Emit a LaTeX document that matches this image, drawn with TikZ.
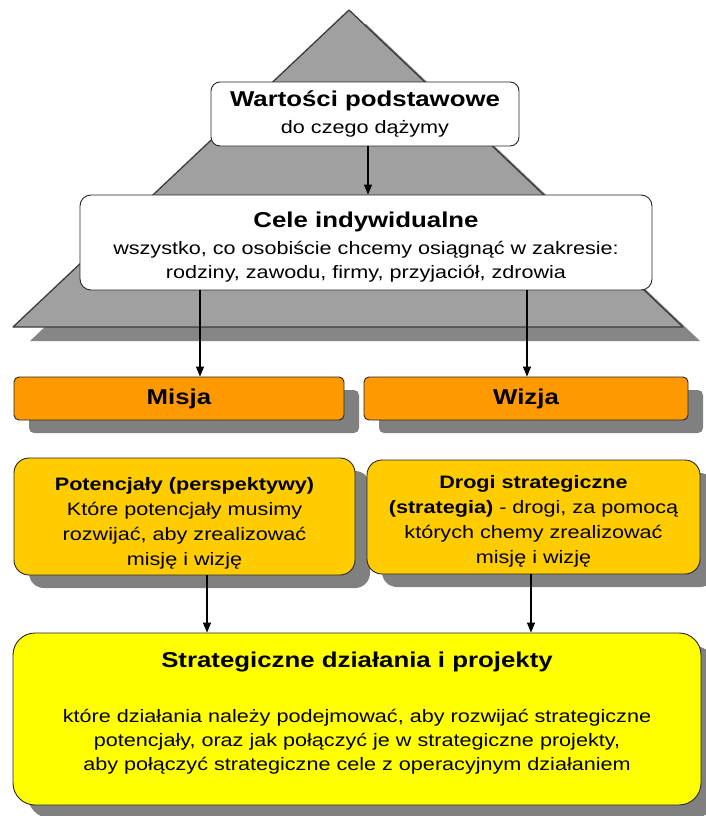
\documentclass[tikz,border=0pt]{standalone}
\usepackage{fontspec}
\setmainfont{Liberation Sans}[FakeStretch=1.2]
\usetikzlibrary{arrows.meta,shadows}
\definecolor{pyr}{HTML}{A0A0A0}
\definecolor{pyrshadow}{HTML}{868686}
\definecolor{shad}{HTML}{808080}
\definecolor{orangebox}{HTML}{FF9900}
\definecolor{goldbox}{HTML}{FFCC00}
\definecolor{yellowbox}{HTML}{FFFF00}
\definecolor{edge}{HTML}{262626}
\newcommand{\ttl}[1]{{\fontsize{21.5}{26}\selectfont\bfseries #1}}
\begin{document}
\begin{tikzpicture}[x=1pt,y=-1pt,
  box/.style={draw=edge, line width=0.9pt, rectangle, inner sep=0pt, align=center, text=black,
    font=\fontsize{18}{25}\selectfont},
  sh/.style={drop shadow={shadow xshift=15pt, shadow yshift=-13pt, fill=shad, opacity=1}},
  arr/.style={-{Triangle[length=10pt,width=8pt]}, line width=1.1pt, black}
]
\useasboundingbox (0,0) rectangle (706,816);
\fill[white] (0,0) rectangle (706,816);
% pyramid
\fill[pyrshadow] (366,24) -- (700,341) -- (30,341) -- cycle;
\filldraw[fill=pyr, draw=edge!90, line width=1.3pt, line join=round] (349,10) -- (683,327) -- (13,327) -- cycle;

\node[box, fill=white, rounded corners=9pt, minimum width=308pt, minimum height=64pt] (wart) at (365,114)
  {\ttl{Wartości podstawowe}\\[2pt] do czego dążymy};
\node[box, fill=white, rounded corners=11pt, minimum width=572pt, minimum height=95pt] (cele) at (366,242.5)
  {\mbox{}\\[-1pt]\ttl{Cele indywidualne}\\[2pt] wszystko, co osobiście chcemy osiągnąć w zakresie:\\[-1pt] rodziny, zawodu, firmy, przyjaciół, zdrowia};

\node[box, sh, fill=orangebox, rounded corners=5pt, minimum width=330pt, minimum height=43pt] (misja) at (179,398.5)
  {\ttl{Misja}};
\node[box, sh, fill=orangebox, rounded corners=5pt, minimum width=324pt, minimum height=43pt] (wizja) at (526,398.5)
  {\ttl{Wizja}};

\node[box, sh, fill=goldbox, rounded corners=15pt, minimum width=341pt, minimum height=117pt] (pot) at (184.5,516.5)
  {\mbox{}\\[2pt]\textbf{Potencjały (perspektywy)}\\ Które potencjały musimy\\ rozwijać, aby zrealizować\\ misję i wizję};
\node[box, sh, fill=goldbox, rounded corners=15pt, minimum width=333pt, minimum height=114pt] (drogi) at (533.5,517)
  {\mbox{}\\[-4pt]\textbf{Drogi strategiczne}\\ \textbf{(strategia)} - drogi, za pomocą\\ których chemy zrealizować\\ misję i wizję};

\node[box, sh, fill=yellowbox, rounded corners=22pt, minimum width=688pt, minimum height=172pt,
  font=\fontsize{18}{24}\selectfont] (strat) at (357,719)
  {\ttl{Strategiczne działania i projekty}\\[31pt] które działania należy podejmować, aby rozwijać strategiczne\\ potencjały, oraz jak połączyć je w strategiczne projekty,\\ aby połączyć strategiczne cele z operacyjnym działaniem\\[-8pt]\mbox{}};

\draw[arr] ([xshift=3pt]wart.south) -- ([xshift=3pt]wart.south |- cele.north);
\draw[arr] ([xshift=21pt]misja.north |- cele.south) -- ([xshift=21pt]misja.north);
\draw[arr] ([xshift=1pt]wizja.north |- cele.south) -- ([xshift=1pt]wizja.north);
\draw[arr] ([xshift=22.5pt]pot.south) -- ([xshift=22.5pt]pot.south |- strat.north);
\draw[arr] ([xshift=-2.5pt]drogi.south) -- ([xshift=-2.5pt]drogi.south |- strat.north);
\end{tikzpicture}
\end{document}
